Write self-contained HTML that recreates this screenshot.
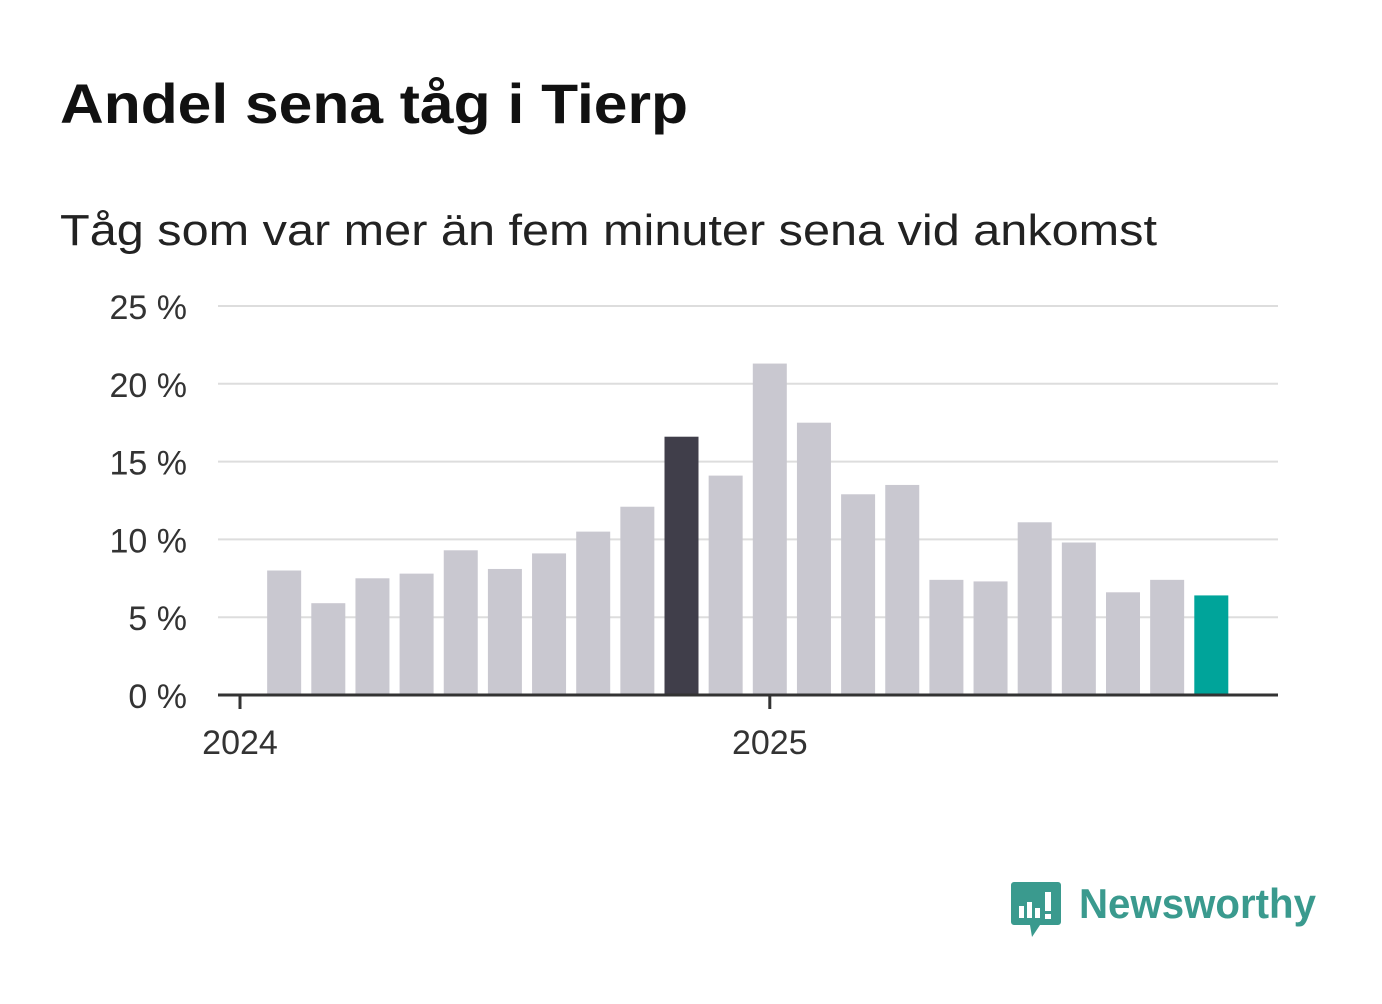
<!DOCTYPE html>
<html><head><meta charset="utf-8"><style>
body{margin:0;background:#fff;width:1382px;height:999px;overflow:hidden;font-family:"Liberation Sans","DejaVu Sans",sans-serif}
</style></head><body>
<svg width="1382" height="999" id="chart">
<text x="60" y="123" font-size="56" font-weight="bold" fill="#111" textLength="628" lengthAdjust="spacingAndGlyphs">Andel sena tåg i Tierp</text>
<text x="60" y="245" font-size="44" fill="#222" textLength="1097" lengthAdjust="spacingAndGlyphs">Tåg som var mer än fem minuter sena vid ankomst</text>
<g id="grid"></g><g id="bars"></g><g id="axes"></g>
<g>
<path d="M1014 882 h44 a3 3 0 0 1 3 3 v37 a3 3 0 0 1 -3 3 h-18 l-8 12 l-2 -12 h-16 a3 3 0 0 1 -3 -3 v-37 a3 3 0 0 1 3 -3z" fill="#3a9a8e"/>
<rect x="1019" y="906" width="5" height="12" fill="#fff"/><rect x="1027" y="902" width="5" height="16" fill="#fff"/><rect x="1035" y="908" width="5" height="10" fill="#fff"/><rect x="1045" y="892" width="6" height="19" fill="#fff"/><rect x="1045" y="914" width="6" height="5" fill="#fff"/>
<text x="1079" y="918" font-size="42" font-weight="bold" fill="#3a9a8e" textLength="237" lengthAdjust="spacingAndGlyphs">Newsworthy</text>
</g>
</svg>
<script>
const months=["2024-02","2024-03","2024-04","2024-05","2024-06","2024-07","2024-08","2024-09","2024-10","2024-11","2024-12","2025-01","2025-02","2025-03","2025-04","2025-05","2025-06","2025-07","2025-08","2025-09","2025-10","2025-11"];
const values=[8.0,5.9,7.5,7.8,9.3,8.1,9.1,10.5,12.1,16.6,14.1,21.3,17.5,12.9,13.5,7.4,7.3,11.1,9.8,6.6,7.4,6.4];
const yTicks=[0,5,10,15,20,25];
const xTickLabels=["2024","2025"];
const NS="http://www.w3.org/2000/svg";
const y0=695,pxPer=15.56,xStart=240,monthW=44.15,barW=34;
const y=v=>y0-v*pxPer;
const x=i=>xStart+(i+1)*monthW;
function mk(t,a,p){const e=document.createElementNS(NS,t);for(const k in a)e.setAttribute(k,a[k]);p.appendChild(e);return e;}
const grid=document.getElementById('grid'),bars=document.getElementById('bars'),axes=document.getElementById('axes');
yTicks.forEach(v=>{
 if(v>0){const l=mk('line',{x1:218,x2:1278,y1:y(v),y2:y(v),stroke:'#ddd','stroke-width':2},grid);
 
 }
 const t=mk('text',{x:187,y:y(v)+13,'font-size':34,fill:'#333','text-anchor':'end'},axes);t.textContent=v+' %';
 
 
});
values.forEach((v,i)=>{
 const fill=i===values.length-1?'#00a49a':(months[i]==="2024-11"?'#403e4a':'#c9c8d0');
 const r=mk('rect',{x:x(i)-barW/2,y:y(v),width:barW,height:y0-y(v),fill:fill},bars);
 
 
});
const ax=mk('line',{x1:218,x2:1278,y1:y0,y2:y0,stroke:'#333','stroke-width':3},axes);


xTickLabels.forEach((lab,k)=>{
 const xx=xStart+k*12*monthW;
 const tk=mk('line',{x1:xx,x2:xx,y1:y0,y2:y0+14,stroke:'#333','stroke-width':3},axes);
 
 
 const t=mk('text',{x:xx,y:754,'font-size':34,fill:'#333','text-anchor':'middle'},axes);t.textContent=lab;
 
 
});
</script>
</body></html>
